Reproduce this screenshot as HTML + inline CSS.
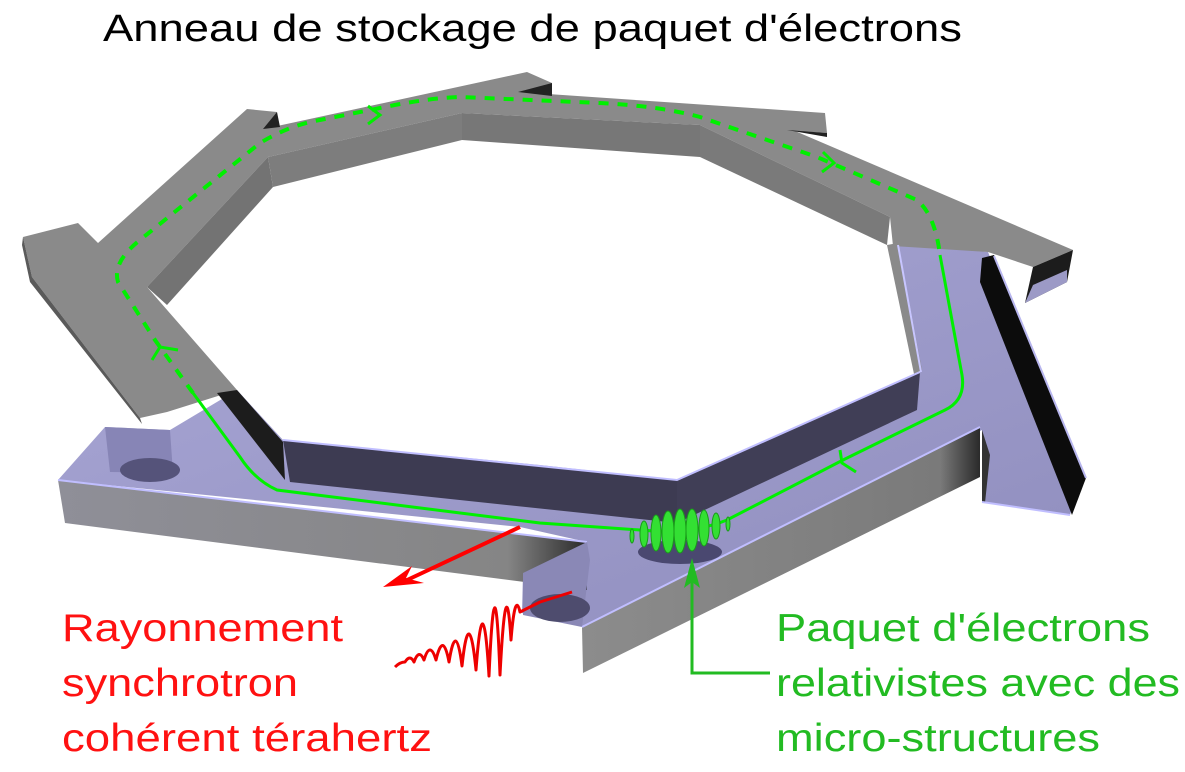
<!DOCTYPE html>
<html><head><meta charset="utf-8"><style>
html,body{margin:0;padding:0;background:#fff;width:1185px;height:772px;overflow:hidden}
svg{display:block}
text{font-family:"Liberation Sans",sans-serif}
</style></head><body>
<svg width="1185" height="772" viewBox="0 0 1185 772" xmlns="http://www.w3.org/2000/svg">
<defs>
<linearGradient id="fl" x1="0" y1="0" x2="1" y2="1"><stop offset="0" stop-color="#a9a7d6"/><stop offset="1" stop-color="#8f8dbd"/></linearGradient>
<linearGradient id="fw" x1="0" y1="0" x2="1" y2="0"><stop offset="0" stop-color="#8f8f98"/><stop offset="0.85" stop-color="#858585"/><stop offset="1" stop-color="#2a2a2a"/></linearGradient>
<linearGradient id="fw2" x1="0" y1="0" x2="1" y2="0"><stop offset="0" stop-color="#8c8c8c"/><stop offset="0.9" stop-color="#7a7a7a"/><stop offset="1" stop-color="#2a2a2a"/></linearGradient>
</defs>

<!-- lavender floor -->
<polygon points="105,427 170,430 237,390 283,440 540,465 677,480 920,372 898,243 988,252 1082,475 1070,515 982,502 982,430 583,627 522,613 523,573 587,542 520,527 58,480" fill="url(#fl)"/>

<!-- grey top surface -->
<polygon points="23,237 78,223 98,243 247,109 277,112 268,128 527,72 552,83 548,94 825,113 827,133 795,131 1073,250 1033,267 988,252 893,246 890,217 700,125 462,113 268,157 147,287 237,390 167,412 140,418 32,277" fill="#8a8a8a"/>
<polygon points="23,237 32,277 140,418 142,424 30,282 22,245" fill="#5a5a5a"/>
<!-- stub dark faces -->
<polygon points="518,92 552,83 552,96" fill="#222"/>
<polygon points="787,130 827,133 827,137" fill="#222"/>
<polygon points="263,129 277,112 280,127" fill="#222"/>
<!-- inner walls (grey) -->
<polygon points="147,287 268,157 273,187 167,305" fill="#737373"/>
<polygon points="268,157 462,113 462,140 273,187" fill="#7d7d7d"/>
<polygon points="462,113 700,125 700,157 462,140" fill="#777"/>
<polygon points="700,125 890,217 887,245 700,157" fill="#7a7a7a"/>
<!-- right thin inner wall -->
<polygon points="887,245 898,243 922,370 914,374" fill="#8a8a8a"/>
<line x1="898" y1="245" x2="921" y2="372" stroke="#c8c6ff" stroke-width="2"/>
<!-- right stub end -->
<polygon points="1033,267 1073,250 1067,282 1025,303" fill="#1c1c1c"/>
<polygon points="1033,285 1067,270 1067,282 1025,303" fill="#9c9ac6"/>
<!-- right black outer wall -->
<polygon points="982,258 994,255 1086,478 1072,515 980,282" fill="#0c0c0c"/>
<line x1="994" y1="256" x2="1086" y2="478" stroke="#b8b6ee" stroke-width="2"/>
<!-- left dark inner wall -->
<polygon points="217,393 237,390 283,442 285,480" fill="#1c1c1c"/>
<!-- bottom inner walls -->
<polygon points="283,440 677,480 677,523 290,482" fill="#3d3b52"/>
<polygon points="677,480 920,372 917,410 677,523" fill="#403e56"/>
<polyline points="283,440 677,480 920,372" fill="none" stroke="#c0beff" stroke-width="2"/>
<!-- left small wall -->
<polygon points="105,427 170,430 173,473 110,472" fill="#8785b6"/>
<ellipse cx="150" cy="470" rx="30" ry="12" fill="#55537a"/>
<!-- front walls -->
<polygon points="58,480 587,542 587,590 65,523" fill="url(#fw)"/>
<line x1="58" y1="480" x2="587" y2="542" stroke="#c0beff" stroke-width="2"/>
<polygon points="523,573 587,542 590,560 582,627 523,615" fill="#8a88b6"/>
<ellipse cx="560" cy="608" rx="30" ry="14" fill="#4e4c6e"/>
<polygon points="582,627 980,427 980,477 583,673" fill="url(#fw2)"/>
<line x1="582" y1="627" x2="980" y2="427" stroke="#c0beff" stroke-width="2"/>
<polygon points="982,430 990,455 985,503 982,502" fill="#333"/>
<line x1="982" y1="502" x2="1070" y2="515" stroke="#c0beff" stroke-width="2"/>

<!-- electron path -->
<path d="M940,255 L962,375 Q966,400 945,410 L843,460 L727,520 Q690,535 640,530 L540,523 L277,490 Q255,480 240,457 L193,393" fill="none" stroke="#00f000" stroke-width="3"/>
<path d="M193,393 L155,340 L118,282 Q112,262 140,240 L260,143 Q290,125 320,120 L390,106 Q430,98 460,97 L600,103 Q660,106 700,117 L817,157 L917,200 Q935,215 940,255" fill="none" stroke="#00f000" stroke-width="4" stroke-dasharray="10,9"/>
<polyline points="368,106 380,115 368,124" fill="none" stroke="#00f000" stroke-width="3"/>
<polyline points="152,360 160,347 178,350" fill="none" stroke="#00f000" stroke-width="3"/>
<polyline points="823,152 834,163 822,172" fill="none" stroke="#00f000" stroke-width="3"/>
<polyline points="840,450 842,463 856,472" fill="none" stroke="#00f000" stroke-width="3"/>

<!-- bunch -->
<ellipse cx="680" cy="552" rx="42" ry="12" fill="#4a4870"/>
<g fill="#33e033" stroke="#1a9a1a" stroke-width="1">
<ellipse cx="632" cy="536" rx="2" ry="7"/>
<ellipse cx="644" cy="534" rx="4" ry="13"/>
<ellipse cx="656" cy="533" rx="5" ry="18"/>
<ellipse cx="668" cy="532" rx="6" ry="21"/>
<ellipse cx="680" cy="531" rx="6" ry="22"/>
<ellipse cx="692" cy="530" rx="6" ry="21"/>
<ellipse cx="704" cy="528" rx="5" ry="18"/>
<ellipse cx="716" cy="526" rx="4" ry="13"/>
<ellipse cx="728" cy="524" rx="2" ry="7"/>
</g>

<!-- green pointer -->
<polyline points="770,673 692,673 692,568" fill="none" stroke="#22bb22" stroke-width="3"/>
<polygon points="692,558 684,588 692,582 700,588" fill="#22bb22"/>

<!-- red radiation -->
<line x1="520" y1="527" x2="405" y2="581" stroke="#ff0000" stroke-width="4"/>
<polygon points="383,587 412,566 406,578 424,583" fill="#ff0000"/>
<path d="M395,667 Q400,662 405,662 Q410,654 414,662 Q419,648 424,660 Q430,640 436,660 Q443,630 449,662 Q456,618 462,666 Q469,600 476,670 Q483,575 489,676 Q495,540 500,675 Q506,560 511,640 Q515,590 520,612 L540,602 L572,592" fill="none" stroke="#ee0000" stroke-width="3" stroke-linejoin="round"/>

<!-- text -->
<text x="103" y="41" font-size="38" fill="#000" textLength="859" lengthAdjust="spacingAndGlyphs">Anneau de stockage de paquet d'électrons</text>
<g fill="#ff1111" font-size="39">
<text x="62" y="641" textLength="281" lengthAdjust="spacingAndGlyphs">Rayonnement</text>
<text x="62" y="696" textLength="236" lengthAdjust="spacingAndGlyphs">synchrotron</text>
<text x="62" y="751" textLength="370" lengthAdjust="spacingAndGlyphs">cohérent térahertz</text>
</g>
<g fill="#22bb22" font-size="39">
<text x="776" y="641" textLength="374" lengthAdjust="spacingAndGlyphs">Paquet d'électrons</text>
<text x="776" y="696" textLength="404" lengthAdjust="spacingAndGlyphs">relativistes avec des</text>
<text x="776" y="751" textLength="324" lengthAdjust="spacingAndGlyphs">micro-structures</text>
</g>
</svg>
</body></html>
